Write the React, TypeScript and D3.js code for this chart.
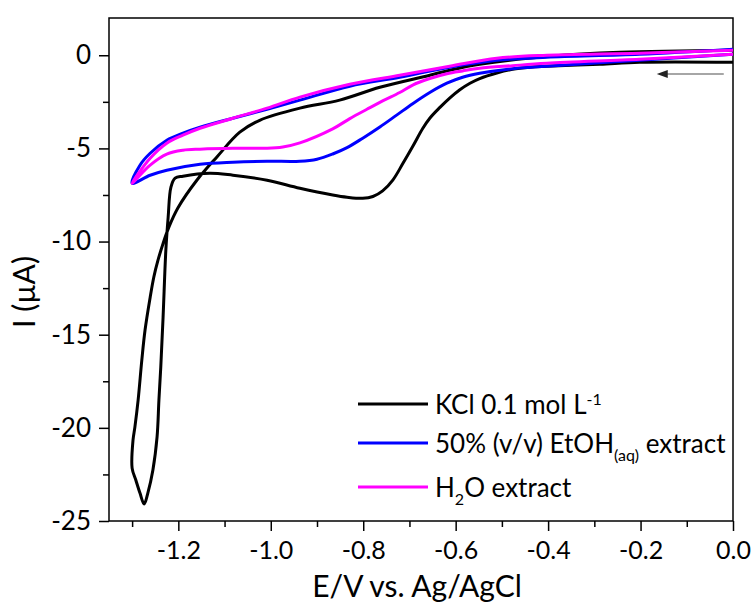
import React, { useEffect, useRef } from 'react';
import * as d3 from 'd3';

// potentials (V vs Ag/AgCl) and currents (µA), in scan order: 0.0 -> -1.3 -> 0.0
const kclE = [0.0, -0.202, -0.288, -0.403, -0.44, -0.477, -0.511, -0.548, -0.569, -0.591, -0.613, -0.634, -0.656, -0.671, -0.693, -0.714, -0.736, -0.758, -0.779, -0.801, -0.835, -0.866, -0.937, -1.008, -1.082, -1.132, -1.19, -1.207, -1.216, -1.222, -1.227, -1.233, -1.238, -1.242, -1.246, -1.255, -1.266, -1.274, -1.283, -1.292, -1.3,
  -1.298, -1.294, -1.287, -1.279, -1.272, -1.261, -1.253, -1.244, -1.233, -1.22, -1.201, -1.16, -1.117, -1.067, -1.024, -0.937, -0.851, -0.764, -0.656, -0.613, -0.548, -0.396, -0.245, 0.0];
const kclI = [-0.38, -0.38, -0.48, -0.59, -0.64, -0.75, -0.95, -1.25, -1.5, -1.85, -2.3, -2.8, -3.38, -3.92, -4.9, -5.8, -6.7, -7.28, -7.58, -7.68, -7.62, -7.5, -7.14, -6.71, -6.44, -6.33, -6.49, -6.6, -7.08, -8.69, -10.46, -14.06, -16.74, -18.51, -20.49, -22.26, -23.5, -24.09, -23.5, -22.8, -22.16,
  -20.65, -19.96, -18.51, -16.36, -14.75, -13.0, -11.9, -11.0, -10.1, -9.2, -8.2, -6.71, -5.47, -4.13, -3.49, -2.84, -2.41, -1.72, -1.07, -0.8, -0.48, -0.05, 0.16, 0.27];

const etohE = [0.0, -0.202, -0.403, -0.477, -0.548, -0.585, -0.619, -0.656, -0.693, -0.727, -0.764, -0.801, -0.835, -0.866, -0.9, -0.937, -1.008, -1.082, -1.153, -1.225, -1.261, -1.3,
  -1.283, -1.261, -1.225, -1.19, -1.153, -1.082, -1.008, -0.937, -0.829, -0.721, -0.613, -0.511, -0.403, -0.202, 0.0];
const etohI = [0.05, -0.27, -0.59, -0.72, -0.97, -1.18, -1.5, -2.0, -2.6, -3.2, -3.85, -4.45, -4.96, -5.3, -5.58, -5.69, -5.69, -5.74, -5.85, -6.17, -6.44, -6.87,
  -5.9, -5.26, -4.56, -4.18, -3.86, -3.38, -2.9, -2.41, -1.66, -1.18, -0.64, -0.27, -0.11, 0.05, 0.32];

const waterE = [0.0, -0.202, -0.403, -0.477, -0.548, -0.585, -0.619, -0.656, -0.693, -0.721, -0.758, -0.792, -0.829, -0.866, -0.937, -0.974, -1.008, -1.082, -1.153, -1.19, -1.225, -1.261, -1.3,
  -1.261, -1.225, -1.19, -1.153, -1.082, -1.008, -0.937, -0.829, -0.721, -0.613, -0.511, -0.403, -0.202, 0.0];
const waterI = [0.05, -0.21, -0.43, -0.56, -0.7, -0.84, -0.99, -1.25, -1.6, -2.0, -2.45, -2.9, -3.4, -3.95, -4.7, -4.92, -4.99, -4.99, -5.04, -5.1, -5.31, -5.9, -6.87,
  -5.53, -4.72, -4.29, -3.92, -3.38, -2.84, -2.25, -1.56, -1.07, -0.59, -0.16, 0.0, 0.11, 0.27];

const xMajor = [-1.2, -1.0, -0.8, -0.6, -0.4, -0.2, 0.0];
const xMinor = [-1.3, -1.1, -0.9, -0.7, -0.5, -0.3, -0.1];
const yMajor = [0, -5, -10, -15, -20, -25];
const yMinor = [-2.5, -7.5, -12.5, -17.5, -22.5];

const FONT = 'Lato, "DejaVu Sans", sans-serif';

export default function App() {
  const ref = useRef<SVGSVGElement>(null);

  useEffect(() => {
    const svg = d3.select(ref.current);
    svg.selectAll('*').remove();

    const left = 109, right = 733, top = 18, bottom = 521;
    const x = d3.scaleLinear().domain([-1.35, 0]).range([left, right]);
    const y = d3.scaleLinear().domain([-25, 2]).range([bottom, top]);

    // minor ticks first
    svg.append('g')
      .attr('transform', `translate(0,${bottom})`)
      .call(d3.axisBottom(x).tickValues(xMinor).tickSize(6).tickSizeOuter(0).tickFormat(() => ''))
      .call(g => g.select('.domain').remove())
      .selectAll('line').attr('stroke-width', 1.5);
    svg.append('g')
      .attr('transform', `translate(${left},0)`)
      .call(d3.axisLeft(y).tickValues(yMinor).tickSize(6).tickSizeOuter(0).tickFormat(() => ''))
      .call(g => g.select('.domain').remove())
      .selectAll('line').attr('stroke-width', 1.5);

    // major ticks + labels
    const xAxis = svg.append('g')
      .attr('transform', `translate(0,${bottom})`)
      .call(d3.axisBottom(x).tickValues(xMajor).tickSize(10).tickSizeOuter(0).tickPadding(10).tickFormat(d3.format('.1f')));
    xAxis.select('.domain').remove();
    xAxis.selectAll('line').attr('stroke-width', 1.5);
    xAxis.selectAll('text').attr('font-family', FONT).attr('font-size', 25).attr('fill', '#000')
      .text(d => d3.format('.1f')(d as number).replace('−', '-'));

    const yAxis = svg.append('g')
      .attr('transform', `translate(${left},0)`)
      .call(d3.axisLeft(y).tickValues(yMajor).tickSize(10).tickSizeOuter(0).tickPadding(8));
    yAxis.select('.domain').remove();
    yAxis.selectAll('line').attr('stroke-width', 1.5);
    yAxis.selectAll('text').attr('font-family', FONT).attr('font-size', 26).attr('fill', '#000')
      .text(d => String(d).replace('−', '-'));

    // frame
    svg.append('rect')
      .attr('x', left).attr('y', top)
      .attr('width', right - left).attr('height', bottom - top)
      .attr('fill', 'none').attr('stroke', '#000').attr('stroke-width', 1.5);

    const line = d3.line<[number, number]>()
      .x(d => x(d[0]))
      .y(d => y(d[1]))
      .curve(d3.curveCatmullRom.alpha(0.5));

    const series = [
      { e: kclE, i: kclI, color: '#000000' },
      { e: etohE, i: etohI, color: '#0000ff' },
      { e: waterE, i: waterI, color: '#ff00ff' },
    ];
    series.forEach(s => {
      svg.append('path')
        .datum(d3.zip(s.e, s.i) as [number, number][])
        .attr('fill', 'none')
        .attr('stroke', s.color)
        .attr('stroke-width', 3)
        .attr('stroke-linejoin', 'round')
        .attr('d', line);
    });

    // scan direction arrow
    svg.append('line')
      .attr('x1', x(-0.02)).attr('x2', x(-0.15))
      .attr('y1', y(-1)).attr('y2', y(-1))
      .attr('stroke', '#888').attr('stroke-width', 1.5);
    const ax = x(-0.165), ay = y(-1);
    svg.append('path')
      .attr('d', `M${ax},${ay} L${ax + 11},${ay - 4} L${ax + 11},${ay + 4} Z`)
      .attr('fill', '#222');

    // legend
    const legend = [
      { color: '#000000', parts: [['KCl 0.1 mol L', 0], ['-1', -1]] },
      { color: '#0000ff', parts: [['50% (v/v) EtOH', 0], ['(aq)', 1], [' extract', 0]] },
      { color: '#ff00ff', parts: [['H', 0], ['2', 1], ['O extract', 0]] },
    ];
    const rowY = [404, 443, 487];
    legend.forEach((row, k) => {
      svg.append('line')
        .attr('x1', 358).attr('x2', 428)
        .attr('y1', rowY[k]).attr('y2', rowY[k])
        .attr('stroke', row.color).attr('stroke-width', 3);
      const t = svg.append('text')
        .attr('x', 435).attr('y', rowY[k] + 10)
        .attr('font-family', FONT).attr('font-size', 26).attr('fill', '#000');
      let shift = 0;
      (row.parts as [string, number][]).forEach(([txt, pos]) => {
        const target = pos === -1 ? -9 : pos === 1 ? 8 : 0;
        t.append('tspan')
          .attr('dy', target - shift)
          .attr('font-size', pos === 0 ? 26 : 16)
          .text(txt);
        shift = target;
      });
    });

    // axis titles
    svg.append('text')
      .attr('x', (left + right) / 2 - 4).attr('y', 597)
      .attr('text-anchor', 'middle')
      .attr('font-family', FONT).attr('font-size', 30).attr('fill', '#000')
      .text('E/V vs. Ag/AgCl');
    svg.append('text')
      .attr('transform', 'translate(35,292) rotate(-90)')
      .attr('text-anchor', 'middle')
      .attr('font-family', FONT).attr('font-size', 30).attr('fill', '#000')
      .text('I (µA)');
  }, []);

  return (
    <svg ref={ref} width={752} height={603}
      style={{ position: 'absolute', left: 0, top: 0, background: '#fff' }} />
  );
}
